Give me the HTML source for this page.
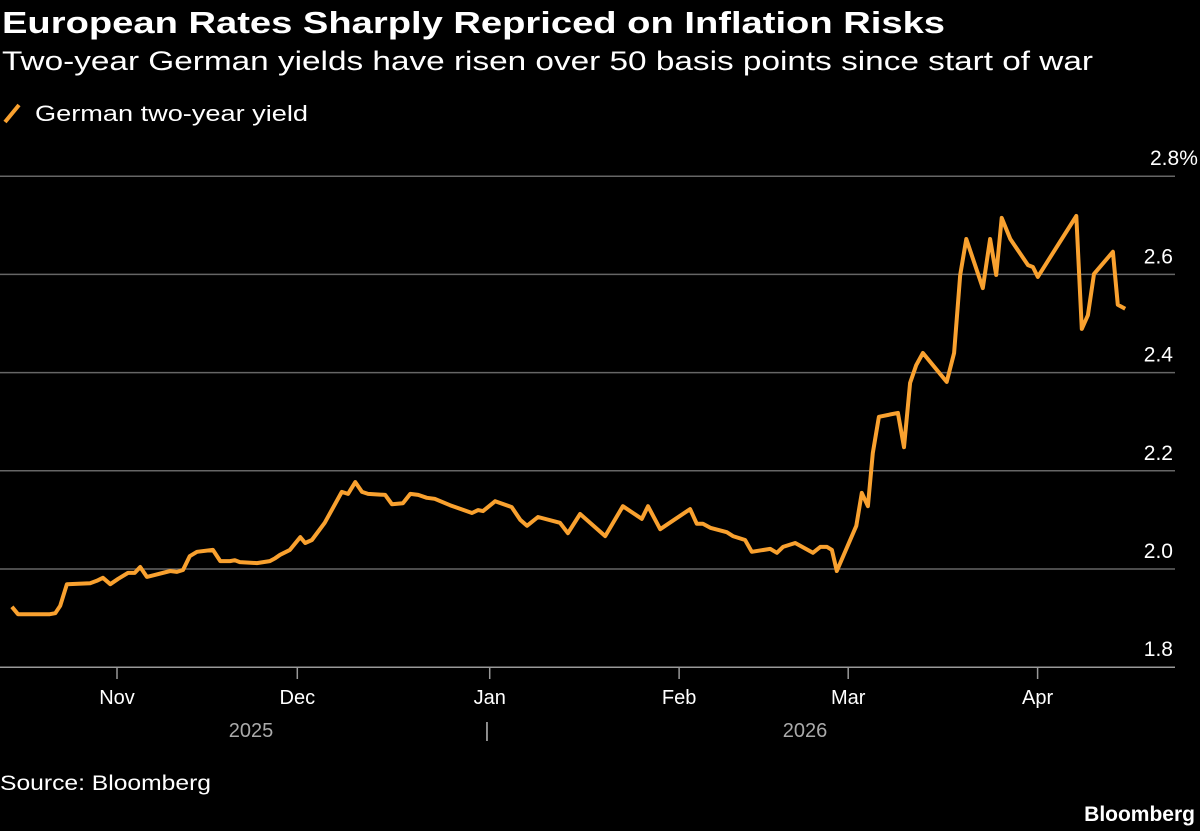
<!DOCTYPE html>
<html><head><meta charset="utf-8"><style>
html,body{margin:0;padding:0;background:#000;}
svg{display:block;font-family:"Liberation Sans",sans-serif;}
</style></head><body>
<svg id="chart" width="1200" height="831" viewBox="0 0 1200 831">
<rect width="1200" height="831" fill="#000"/>
<text x="2" y="33" font-size="31" font-weight="bold" fill="#fff" textLength="943" lengthAdjust="spacingAndGlyphs">European Rates Sharply Repriced on Inflation Risks</text>
<text x="2" y="70" font-size="27" fill="#fff" textLength="1091" lengthAdjust="spacingAndGlyphs">Two-year German yields have risen over 50 basis points since start of war</text>
<line x1="5" y1="122" x2="19" y2="105" stroke="#f9a12f" stroke-width="4"/>
<text x="35" y="121" font-size="22" fill="#fff" textLength="273" lengthAdjust="spacingAndGlyphs">German two-year yield</text>
<g id="grid"></g>
<g id="xaxis"></g>
<g id="yaxis"></g>
<path id="line" fill="none" stroke="#f9a12f" stroke-width="4" stroke-linejoin="round"/>
<text x="0" y="790" font-size="21" fill="#fff" textLength="211" lengthAdjust="spacingAndGlyphs">Source: Bloomberg</text>
<text x="1195" y="821" font-size="21" font-weight="bold" fill="#fff" text-anchor="end">Bloomberg</text>
</svg>
<script>
// days since Nov 1 2025
const days = [-17.2,-16.2,-11.0,-10.1,-9.3,-8.2,-4.4,-3.3,-2.3,-1.1,0.2,1.8,2.9,3.8,4.9,6.2,8.7,9.8,10.8,11.9,13.1,15.7,16.9,18.5,19.3,20.1,22.9,25.0,25.9,26.7,28.3,30.0,30.8,31.9,34.0,36.8,37.8,39.0,40.1,41.1,43.9,45.0,46.8,48.0,49.3,50.7,52.0,54.5,58.1,59.1,59.9,61.9,64.6,66.0,67.1,68.9,72.5,73.8,75.8,79.9,82.8,85.9,86.9,88.9,93.8,94.9,95.9,97.1,99.8,100.8,102.8,103.9,106.9,108.0,109.0,111.0,113.9,115.1,116.2,117.0,117.8,121.0,121.9,122.9,123.7,124.7,127.8,128.8,129.8,130.8,131.9,135.8,137.0,138.0,139.0,141.7,142.9,143.9,144.8,146.2,149.1,149.9,150.7,157.0,157.9,158.9,159.9,163.0,163.8,165.0];
const yields = [1.923,1.908,1.908,1.910,1.925,1.969,1.971,1.976,1.982,1.969,1.980,1.992,1.992,2.004,1.984,1.988,1.996,1.994,1.998,2.026,2.035,2.039,2.016,2.016,2.018,2.014,2.012,2.016,2.022,2.029,2.039,2.065,2.053,2.059,2.094,2.157,2.153,2.177,2.157,2.153,2.151,2.132,2.134,2.153,2.151,2.145,2.143,2.130,2.114,2.120,2.118,2.138,2.126,2.100,2.088,2.106,2.094,2.073,2.112,2.067,2.128,2.102,2.128,2.081,2.122,2.092,2.092,2.084,2.075,2.067,2.059,2.035,2.041,2.033,2.045,2.053,2.033,2.045,2.045,2.039,1.996,2.088,2.155,2.128,2.236,2.310,2.318,2.248,2.379,2.415,2.440,2.381,2.440,2.599,2.672,2.572,2.672,2.599,2.715,2.672,2.619,2.615,2.595,2.719,2.489,2.517,2.601,2.646,2.538,2.530];
const yTicks = [1.8,2.0,2.2,2.4,2.6,2.8];
const yTickLabels = ["1.8","2.0","2.2","2.4","2.6","2.8%"];
const monthDays = [0,30,61,92,120,151];
const monthLabels = ["Nov","Dec","Jan","Feb","Mar","Apr"];
const NS="http://www.w3.org/2000/svg";
const xs = d => 117 + d*6.11;
const ys = v => 569 - (v-2)*491;
const grid=document.getElementById('grid'), xa=document.getElementById('xaxis'), ya=document.getElementById('yaxis');
yTicks.forEach((t,i)=>{
  const l=document.createElementNS(NS,'line');
  l.setAttribute('x1',0);l.setAttribute('x2',1175);l.setAttribute('y1',ys(t));l.setAttribute('y2',ys(t));
  l.setAttribute('stroke', i===0?'#999':'#666');l.setAttribute('stroke-width',1.5);
  
  
  grid.appendChild(l);
  const tx=document.createElementNS(NS,'text');
  tx.setAttribute('x', i===5?1150:1173);tx.setAttribute('y',ys(t)-11);
  tx.setAttribute('text-anchor','end');
  if(i===5){tx.setAttribute('text-anchor','start');}
  tx.setAttribute('font-size',21);tx.setAttribute('fill','#fff');
  tx.textContent=yTickLabels[i];
  
  
  ya.appendChild(tx);
});
monthDays.forEach((d,i)=>{
  const x=xs(d)-(i>=4?2:0)-(i===1?3:0);
  const l=document.createElementNS(NS,'line');
  l.setAttribute('x1',x);l.setAttribute('x2',x);l.setAttribute('y1',668);l.setAttribute('y2',679);
  l.setAttribute('stroke','#999');l.setAttribute('stroke-width',1.5);
  
  
  xa.appendChild(l);
  const tx=document.createElementNS(NS,'text');
  tx.setAttribute('x',x);tx.setAttribute('y',704);tx.setAttribute('text-anchor','middle');
  tx.setAttribute('font-size',20);tx.setAttribute('fill','#fff');
  tx.textContent=monthLabels[i];
  
  
  xa.appendChild(tx);
});
[["2025",251],["|",487],["2026",805]].forEach(p=>{
  const tx=document.createElementNS(NS,'text');
  tx.setAttribute('x',p[1]);tx.setAttribute('y',737);tx.setAttribute('text-anchor','middle');
  tx.setAttribute('font-size',20);tx.setAttribute('fill','#aaa');
  tx.textContent=p[0];
  
  
  xa.appendChild(tx);
});
document.getElementById('line').setAttribute('d', days.map((d,i)=>(i?'L':'M')+xs(d).toFixed(1)+','+ys(yields[i]).toFixed(1)).join(''));
</script>
</body></html>
